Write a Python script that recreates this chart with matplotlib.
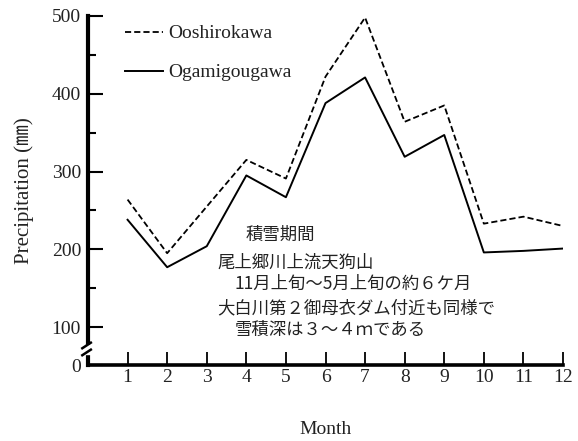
import numpy as np
import matplotlib.pyplot as plt
from matplotlib.font_manager import FontProperties
from matplotlib.lines import Line2D

months = list(range(1, 13))
ooshirokawa = [264, 195, 255, 315, 291, 422, 498, 364, 385, 233, 242, 230]
ogamigougawa = [238, 177, 204, 295, 267, 388, 421, 319, 347, 196, 198, 201]

y_major = [0, 100, 200, 300, 400, 500]
y_minor = [150, 250, 350, 450]

note_lines = [
    "積雪期間",
    "尾上郷川上流天狗山",
    "11月上旬～5月上旬の約６ケ月",
    "大白川第２御母衣ダム付近も同様で",
    "雪積深は３～４ｍである",
]

SERIF = ["Liberation Serif", "Noto Sans CJK JP"]
CJK = ["Noto Sans CJK JP", "DejaVu Sans"]

# the 0-100 band is squeezed so the axis can be shown broken below 100
SQUEEZE = 38 / 78


def fwd(v):
    v = np.asarray(v, dtype=float)
    return np.where(v >= 100, v, 100 - (100 - v) * SQUEEZE)


def inv(v):
    v = np.asarray(v, dtype=float)
    return np.where(v >= 100, v, 100 - (100 - v) / SQUEEZE)


fig = plt.figure(figsize=(5.78, 4.41), dpi=100)
ax = fig.add_axes([88 / 578, 1 - 365 / 441, 475 / 578, 349 / 441])
ax.set_yscale("function", functions=(fwd, inv))

ax.plot(months, ooshirokawa, color="black", lw=1.3, ls=(0, (3.4, 1.7)),
        label="Ooshirokawa")
ax.plot(months, ogamigougawa, color="black", lw=1.4, label="Ogamigougawa")

ax.set_xlim(0, 12)
ax.set_ylim(0, 500)
ax.set_xticks(months)
ax.set_yticks(y_major)
ax.set_yticks(y_minor, minor=True)
ax.yaxis.set_minor_formatter(plt.NullFormatter())

for s in ("top", "right"):
    ax.spines[s].set_visible(False)
ax.spines["left"].set_linewidth(3.0)
ax.spines["bottom"].set_linewidth(2.6)

ax.tick_params(axis="x", direction="in", length=9.5, width=1.3, pad=3,
               labelsize=14)
ax.tick_params(axis="y", which="major", direction="in", length=11, width=1.5,
               pad=5, labelsize=14)
ax.tick_params(axis="y", which="minor", direction="in", length=6, width=1.5)
for lab in ax.get_xticklabels() + ax.get_yticklabels():
    lab.set_family(SERIF)
    lab.set_color("#222222")

ax.set_xlabel("Month", family=SERIF, fontsize=14, labelpad=25, color="#222222")
ax.set_ylabel("Precipitation (㎜)", family=SERIF, fontsize=15, labelpad=13,
              color="#222222")

# break mark on the value axis
ax.add_patch(plt.Rectangle((-0.012, 0.032), 0.024, 0.026, transform=ax.transAxes,
                           color="white", clip_on=False, zorder=5))
for yb in (0.036, 0.056):
    ax.add_line(Line2D([-0.012, 0.006], [yb - 0.008, yb + 0.008],
                       transform=ax.transAxes, color="black", lw=1.8,
                       clip_on=False, zorder=6))

leg = ax.legend(loc="upper left", bbox_to_anchor=(0.078, 0.975), frameon=False,
                handlelength=1.95, handletextpad=0.26, labelspacing=1.1,
                borderaxespad=0, borderpad=0,
                prop=FontProperties(family="Liberation Serif", size=14))
for t in leg.get_texts():
    t.set_color("#222222")

note_pos = [(0.331, 0.373), (0.272, 0.292), (0.309, 0.232), (0.272, 0.163),
            (0.309, 0.100)]
for (nx, ny), line in zip(note_pos, note_lines):
    ax.text(nx, ny, line, transform=ax.transAxes, family=CJK, fontsize=12.5,
            va="center", ha="left", color="#222222")

fig.savefig("out.png", dpi=100)
